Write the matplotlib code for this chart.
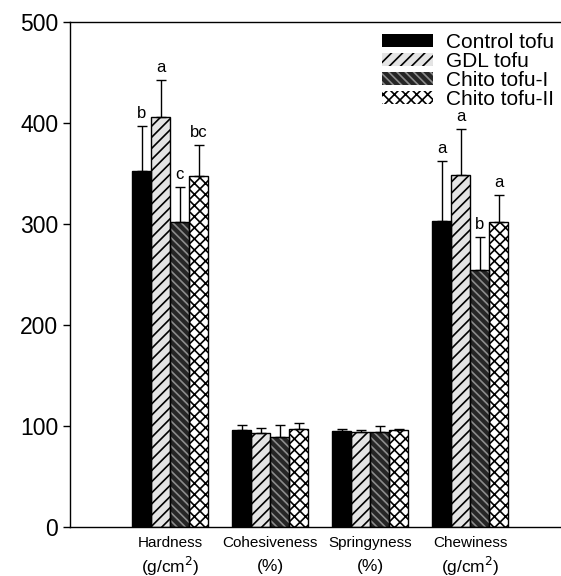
import matplotlib
matplotlib.use("Agg")
import matplotlib.pyplot as plt
from matplotlib.patches import Patch
from matplotlib.transforms import blended_transform_factory
import numpy as np

plt.rcParams['font.family'] = ['Liberation Sans', 'DejaVu Sans']
plt.rcParams['hatch.linewidth'] = 1.2

categories = ["Hardness", "Cohesiveness", "Springyness", "Chewiness"]
units = ["(g/cm$^2$)", "(%)", "(%)", "(g/cm$^2$)"]
series = ["Control tofu", "GDL tofu", "Chito tofu-I", "Chito tofu-II"]
control = [352, 96, 95.5, 303]
gdl = [406, 93, 94.5, 349]
chito1 = [302, 89.5, 94, 254]
chito2 = [347.5, 97, 96.5, 302]
err_control = [45, 5, 2, 59]
err_gdl = [37, 5, 2, 45]
err_chito1 = [35, 11.5, 6, 33]
err_chito2 = [31, 6, 0.5, 27]
letters_hardness = ["b", "a", "c", "bc"]
letters_chewiness = ["a", "a", "b", "a"]

values = [control, gdl, chito1, chito2]
errors = [err_control, err_gdl, err_chito1, err_chito2]
letters = {0: letters_hardness, 3: letters_chewiness}

styles = [
    dict(face="black", hatch=None, hcol="black"),
    dict(face="#e4e4e4", hatch="///", hcol="black"),
    dict(face="#262626", hatch="\\\\\\\\", hcol="#8c8c8c"),
    dict(face="white", hatch="xxx", hcol="black"),
]

fig = plt.figure(figsize=(5.61, 5.76), dpi=100)
ax = fig.add_axes([70/561, 49/576, 491/561, 505/576])

x = np.arange(len(categories))
w = 0.19
offsets = (np.arange(4) - 1.5) * w
for i in range(4):
    st = styles[i]
    xs = x + offsets[i]
    ax.bar(xs, values[i], w, color=st["face"], hatch=st["hatch"],
           edgecolor=st["hcol"], linewidth=0, zorder=2)
    ax.bar(xs, values[i], w, fill=False, edgecolor="black", linewidth=1.0, zorder=3)
    ax.errorbar(xs, values[i], yerr=[np.zeros(4), errors[i]], fmt="none",
                ecolor="black", elinewidth=1.0, capsize=3.6, capthick=1.0, zorder=4)
for g, labs in letters.items():
    for i in range(4):
        top = values[i][g] + errors[i][g]
        ax.text(x[g] + offsets[i], top + 5, labs[i], ha="center", va="bottom", fontsize=12)

ax.set_xlim(-1.0, 3.91)
ax.set_ylim(0, 500)
ax.set_yticks([0, 100, 200, 300, 400, 500])
ax.tick_params(axis="y", labelsize=16.5, direction="out", length=5, width=1)
ax.set_xticks(x)
ax.set_xticklabels([])
ax.tick_params(axis="x", length=0)
trans = blended_transform_factory(ax.transData, fig.transFigure)
for xi, cat, un in zip(x, categories, units):
    ax.text(xi, 1 - 543/576, cat, transform=trans, ha="center", va="center", fontsize=11)
    ax.text(xi, 1 - 566/576, un, transform=trans, ha="center", va="center", fontsize=12.5)
ax.spines["right"].set_visible(False)
for s in ["left", "top", "bottom"]:
    ax.spines[s].set_linewidth(1.0)

handles = [Patch(facecolor=st["face"], hatch=st["hatch"], edgecolor=st["hcol"], linewidth=0)
           for st in styles]
ax.legend(handles, series, loc="upper left", bbox_to_anchor=(382/561, 1 - 33/576),
          bbox_transform=fig.transFigure, frameon=False, fontsize=15,
          handlelength=2.45, handleheight=0.6, handletextpad=0.6,
          labelspacing=0.0, borderpad=0, borderaxespad=0)

fig.savefig("out.png", dpi=100)
